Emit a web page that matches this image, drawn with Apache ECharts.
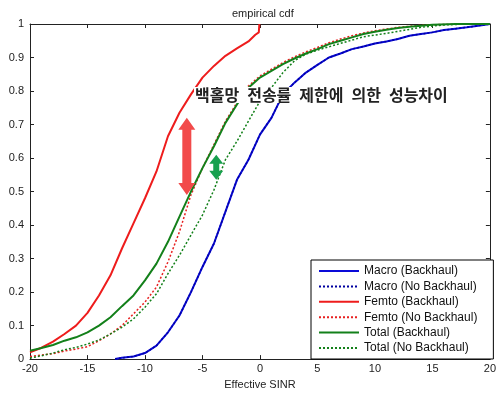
<!DOCTYPE html>
<html>
<head>
<meta charset="utf-8">
<script src="https://cdn.jsdelivr.net/npm/echarts@6/dist/echarts.min.js"></script>
<style>
  html, body { margin: 0; padding: 0; background: #fff; }
  #chart { width: 499px; height: 395px; }
</style>
</head>
<body>
<div id="chart"></div>
<script>
// values: [SINR, F(x)]
const macroB = [[-12.6,0],[-12,0.004],[-11,0.008],[-10,0.018],[-9,0.04],[-8,0.08],[-7,0.13],[-6,0.2],[-5,0.275],[-4,0.345],[-3,0.44],[-2,0.535],[-1,0.595],[0,0.67],[1,0.72],[2,0.79],[3,0.825],[4,0.855],[5,0.878],[6,0.9],[7,0.912],[8,0.925],[9,0.933],[10,0.942],[11,0.948],[12,0.955],[13,0.965],[14,0.97],[15,0.975],[16,0.982],[17,0.986],[18,0.99],[19,0.995],[20,1]];
const macroNB = [[-12.6,0],[-12,0.004],[-11,0.008],[-10,0.018],[-9,0.04],[-8,0.08],[-7,0.13],[-6,0.2],[-5,0.275],[-4,0.345],[-3,0.44],[-2,0.535],[-1,0.595],[0,0.67],[1,0.72],[2,0.79],[3,0.825],[4,0.855],[5,0.878],[6,0.9],[7,0.912],[8,0.925],[9,0.933],[10,0.942],[11,0.948],[12,0.955],[13,0.965],[14,0.97],[15,0.975],[16,0.982],[17,0.986],[18,0.99],[19,0.995],[20,1]];
const femtoB = [[-20,0.02],[-19,0.034],[-18,0.052],[-17,0.075],[-16,0.1],[-15,0.138],[-14,0.19],[-13,0.25],[-12,0.33],[-11,0.405],[-10,0.48],[-9,0.56],[-8,0.665],[-7,0.735],[-6,0.79],[-5,0.84],[-4,0.875],[-3,0.905],[-2,0.927],[-1,0.948],[-0.4,0.968],[-0.1,0.975],[-0.05,1]];
const femtoNB = [[-20,0.008],[-19,0.012],[-18,0.016],[-17,0.024],[-16,0.03],[-15,0.037],[-14,0.055],[-13,0.075],[-12,0.1],[-11,0.135],[-10,0.17],[-9,0.215],[-8,0.29],[-7,0.38],[-6,0.49],[-5,0.57],[-4,0.64],[-3,0.71],[-2,0.765],[-1,0.815],[0,0.845],[1,0.865],[2,0.885],[3,0.902],[4,0.917],[5,0.93],[6,0.944],[7,0.955],[8,0.965],[9,0.973],[10,0.98],[12,0.99],[14,0.996],[16,0.999],[20,1]];
const totalB = [[-20,0.025],[-19,0.033],[-18,0.042],[-17,0.055],[-16,0.065],[-15,0.08],[-14,0.1],[-13,0.125],[-12,0.158],[-11,0.19],[-10,0.235],[-9,0.285],[-8,0.35],[-7,0.425],[-6,0.5],[-5,0.57],[-4,0.635],[-3,0.705],[-2,0.76],[-1,0.81],[0,0.84],[1,0.86],[2,0.88],[3,0.897],[4,0.912],[5,0.925],[6,0.94],[7,0.95],[8,0.96],[9,0.97],[10,0.977],[11,0.983],[12,0.988],[13,0.992],[14,0.995],[15,0.998],[17,1],[20,1]];
const totalNB = [[-20,0.003],[-19,0.01],[-18,0.018],[-17,0.028],[-16,0.035],[-15,0.045],[-14,0.057],[-13,0.075],[-12,0.095],[-11,0.12],[-10,0.155],[-9,0.195],[-8,0.255],[-7,0.31],[-6,0.37],[-5,0.43],[-4,0.505],[-3,0.595],[-2,0.65],[-1,0.71],[0,0.77],[1,0.81],[2,0.855],[3,0.89],[4,0.91],[5,0.922],[6,0.932],[7,0.942],[8,0.952],[9,0.962],[10,0.967],[11,0.972],[12,0.978],[13,0.984],[14,0.99],[15,0.994],[16,0.997],[18,1]];

const legendNames = ['Macro (Backhaul)', 'Macro (No Backhaul)', 'Femto (Backhaul)', 'Femto (No Backhaul)', 'Total (Backhaul)', 'Total (No Backhaul)'];
const xTicks = [-20, -15, -10, -5, 0, 5, 10, 15, 20];
const yTicks = [0, 0.1, 0.2, 0.3, 0.4, 0.5, 0.6, 0.7, 0.8, 0.9, 1];

// double arrows: [x, yBottom, yTop]
const arrowRed = [-6.36, 0.49, 0.72];
const arrowGreen = [-3.8, 0.535, 0.61];

const annotation = '백홀망 전송률 제한에 의한 성능차이';

const latin = '"Liberation Sans", Arial, sans-serif';

function lineSeries(name, data, color, dotted, width) {
  return {
    name: name,
    type: 'line',
    data: data,
    symbol: 'none',
    silent: true,
    lineStyle: { color: color, width: width, type: dotted ? [2, 2] : 'solid' },
    itemStyle: { color: color }
  };
}

function arrowSeries(arrow, color, sw, hw, hl) {
  return {
    type: 'custom',
    silent: true,
    data: [arrow],
    z: 5,
    renderItem: function (params, api) {
      const top = api.coord([api.value(0), api.value(2)]);
      const bot = api.coord([api.value(0), api.value(1)]);
      const cx = top[0];
      const pts = [
        [cx, top[1]], [cx + hw, top[1] + hl], [cx + sw, top[1] + hl],
        [cx + sw, bot[1] - hl], [cx + hw, bot[1] - hl], [cx, bot[1]],
        [cx - hw, bot[1] - hl], [cx - sw, bot[1] - hl], [cx - sw, top[1] + hl],
        [cx - hw, top[1] + hl]
      ];
      return { type: 'polygon', shape: { points: pts }, style: { fill: color } };
    }
  };
}

const frameAxis = {
  axisLine: { show: true, onZero: false, lineStyle: { color: '#222', width: 1 } },
  axisTick: { show: true, inside: true, length: 4, lineStyle: { color: '#222' } },
  splitLine: { show: false }
};

const chart = echarts.init(document.getElementById('chart'));
const option = {
  animation: false,
  backgroundColor: '#fff',
  title: {
    text: 'empirical cdf',
    left: 227, top: 3,
    textStyle: { fontFamily: latin, fontSize: 11, fontWeight: 'normal', color: '#222' }
  },
  grid: { left: 30, right: 3, top: 24, bottom: 34 },
  legend: {
    data: legendNames,
    orient: 'vertical',
    left: 311, top: 260,
    padding: [5, 16, 5, 7],
    itemWidth: 40, itemHeight: 12, itemGap: 3.4,
    itemStyle: { opacity: 0, borderWidth: 0 },
    backgroundColor: '#fff',
    borderColor: '#000', borderWidth: 1, borderRadius: 0,
    textStyle: { fontFamily: latin, fontSize: 12, color: '#111' }
  },
  xAxis: [Object.assign({
    type: 'value', min: -20, max: 20, interval: 5,
    name: 'Effective SINR', nameLocation: 'middle', nameGap: 16,
    nameTextStyle: { fontFamily: latin, fontSize: 11, color: '#222' },
    axisLabel: { fontFamily: latin, fontSize: 11, color: '#222', margin: 4,
      formatter: function (v) { return xTicks.indexOf(v) >= 0 ? String(v) : ''; } }
  }, frameAxis), Object.assign({
    type: 'value', min: -20, max: 20, interval: 5, position: 'top',
    axisLabel: { show: false }
  }, frameAxis)],
  yAxis: [Object.assign({
    type: 'value', min: 0, max: 1, interval: 0.1,
    axisLabel: { fontFamily: latin, fontSize: 11, color: '#222', margin: 6,
      formatter: function (v) {
        const t = yTicks.find(function (k) { return Math.abs(k - v) < 1e-6; });
        return t === undefined ? '' : String(t);
      } }
  }, frameAxis), Object.assign({
    type: 'value', min: 0, max: 1, interval: 0.1, position: 'right',
    axisLabel: { show: false }
  }, frameAxis)],
  graphic: [{
    type: 'text',
    left: 194, top: 87, z: 10,
    style: {
      text: annotation.replace(/ /g, '\u2002'),
      fontFamily: '"Noto Sans CJK KR", sans-serif',
      fontSize: 16, fontWeight: 'bold', fill: '#222',
      backgroundColor: '#fff', padding: [0, 1]
    }
  }],
  series: [
    lineSeries(legendNames[0], macroB, '#0a0ad8', false, 2),
    lineSeries(legendNames[1], macroNB, '#0000a0', true, 1.5),
    lineSeries(legendNames[2], femtoB, '#ee1c1c', false, 2),
    lineSeries(legendNames[3], femtoNB, '#e82020', true, 1.5),
    lineSeries(legendNames[4], totalB, '#13801a', false, 2),
    lineSeries(legendNames[5], totalNB, '#13801a', true, 1.5),
    arrowSeries(arrowRed, '#f24a4a', 4.5, 8.5, 12),
    arrowSeries(arrowGreen, '#17a04e', 3, 7, 9)
  ]
};
chart.setOption(option);
</script>
</body>
</html>
